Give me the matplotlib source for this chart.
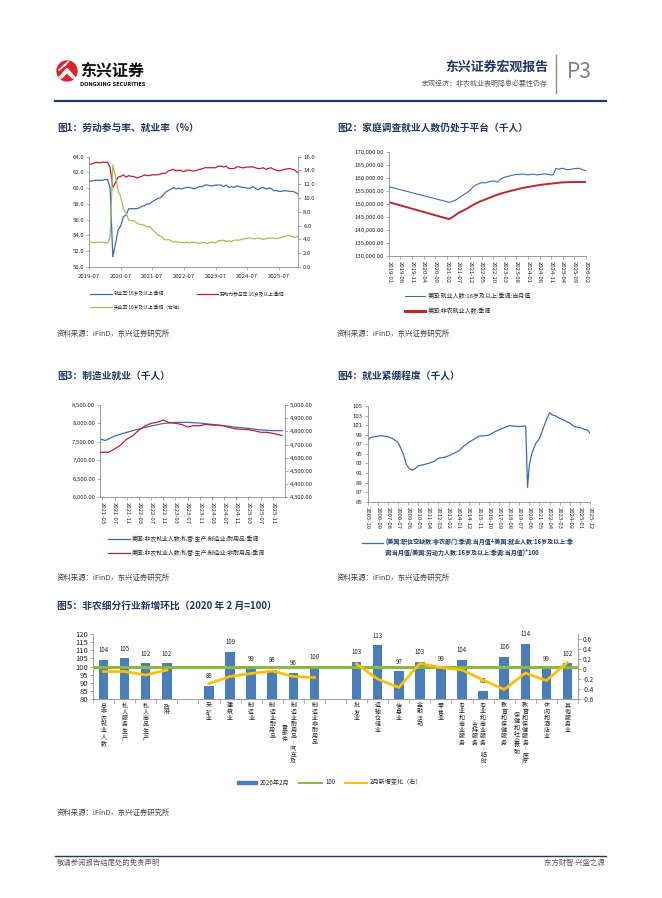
import matplotlib
matplotlib.use('Agg')
import matplotlib.pyplot as plt
from matplotlib.patches import Circle, Polygon, Rectangle
import pandas as pd
import numpy as np

plt.rcParams['font.family'] = ['Noto Sans CJK SC', 'DejaVu Sans']
plt.rcParams['axes.unicode_minus'] = False

# ---------------- data ----------------
# 图1 labour market rates, monthly 2019-07 .. 2026-02 (2025-10 not published)
rate_dates = [d for d in pd.date_range('2019-07-01', '2026-02-01', freq='MS')
              if d != pd.Timestamp('2025-10-01')]
emp_rate = [60.9, 60.9, 61.0, 61.0, 61.0, 61.0,
            61.1, 61.1, 60.0, 51.3, 52.9, 54.7, 55.2, 56.4, 56.6, 57.4, 57.4, 57.4,
            57.4, 57.5, 57.7, 57.8, 58.0, 58.0, 58.3, 58.5, 58.7, 58.8, 59.1, 59.5,
            59.7, 59.9, 60.1, 59.9, 60.0, 59.9, 60.0, 60.1, 60.1, 60.0, 59.9, 60.1,
            60.2, 60.2, 60.4, 60.4, 60.3, 60.3, 60.4, 60.4, 60.4, 60.2, 60.4, 60.1,
            60.2, 60.1, 60.3, 60.2, 60.1, 60.1, 60.0, 60.0, 60.2, 60.0, 59.8, 60.0,
            60.1, 59.9, 60.0, 60.0, 59.7, 59.7, 59.6, 59.6, 59.7, 59.6, 59.6,
            59.5, 59.3]
lfpr = [63.0, 63.1, 63.2, 63.3, 63.2, 63.3,
        63.3, 63.3, 62.6, 60.1, 60.7, 61.4, 61.5, 61.7, 61.4, 61.6, 61.5, 61.5,
        61.3, 61.4, 61.5, 61.7, 61.6, 61.6, 61.7, 61.7, 61.7, 61.8, 61.9, 61.9,
        62.2, 62.3, 62.4, 62.2, 62.3, 62.2, 62.1, 62.3, 62.3, 62.2, 62.2, 62.3,
        62.4, 62.5, 62.6, 62.6, 62.6, 62.6, 62.6, 62.8, 62.8, 62.7, 62.8, 62.5,
        62.5, 62.5, 62.7, 62.7, 62.6, 62.6, 62.7, 62.7, 62.7, 62.6, 62.5, 62.5,
        62.6, 62.4, 62.5, 62.6, 62.4, 62.3, 62.2, 62.3, 62.4, 62.5, 62.4,
        62.3, 62.0]
unemp = [3.7, 3.6, 3.5, 3.6, 3.6, 3.6,
         3.5, 3.5, 4.4, 14.8, 13.2, 11.0, 10.2, 8.4, 7.8, 6.8, 6.7, 6.7,
         6.4, 6.2, 6.1, 6.1, 5.8, 5.9, 5.4, 5.1, 4.7, 4.5, 4.2, 3.9,
         4.0, 3.8, 3.6, 3.7, 3.6, 3.6, 3.5, 3.6, 3.5, 3.6, 3.6, 3.5,
         3.4, 3.6, 3.5, 3.4, 3.6, 3.6, 3.5, 3.8, 3.8, 3.9, 3.7, 3.8,
         3.7, 3.9, 3.9, 3.9, 4.0, 4.1, 4.2, 4.2, 4.1, 4.1, 4.2, 4.1,
         4.0, 4.1, 4.2, 4.2, 4.2, 4.1, 4.2, 4.3, 4.4, 4.6, 4.4,
         4.3, 4.4]

# 图2 household survey vs payrolls (thousands)
hh_dates = ['2019-01', '2021-03', '2021-04', '2021-06', '2021-08', '2021-09', '2021-10',
            '2021-12', '2022-01', '2022-02', '2022-03', '2022-05', '2022-07', '2022-08',
            '2022-10', '2022-11', '2022-12', '2023-01', '2023-03', '2023-05', '2023-06',
            '2023-08', '2023-09', '2023-11', '2023-12', '2024-02', '2024-03', '2024-05',
            '2024-07', '2024-08', '2024-10', '2024-11', '2024-12', '2025-01', '2025-02',
            '2025-03', '2025-04', '2025-05', '2025-06', '2025-07', '2025-08', '2025-09',
            '2025-11', '2025-12', '2026-01', '2026-02']
hh_emp = [156600, 150650, 150900, 151600, 152800, 153400, 153900,
          155200, 156300, 157000, 157500, 158150, 158100, 158500,
          158800, 158700, 158300, 159400, 160300, 160700, 160950,
          161300, 161300, 161500, 161200, 161200, 161500, 161100,
          161400, 161500, 161300, 161100, 161300, 163600, 163300,
          163500, 163700, 163300, 163100, 163200, 163300, 163500,
          163700, 163300, 163000, 162700]
nfp_dates = ['2019-01', '2021-03', '2021-05', '2021-07', '2021-09', '2021-11', '2022-01',
             '2022-03', '2022-05', '2022-07', '2022-09', '2022-11', '2023-01', '2023-03',
             '2023-05', '2023-07', '2023-09', '2023-11', '2024-01', '2024-03', '2024-05',
             '2024-07', '2024-09', '2024-11', '2025-01', '2025-03', '2025-05', '2025-07',
             '2025-09', '2025-11', '2026-02']
nfp = [150700, 144200, 145300, 146600, 147500, 148400, 149500,
       150400, 151200, 151900, 152600, 153300, 153900, 154400,
       154900, 155300, 155800, 156200, 156500, 156800, 157100,
       157400, 157600, 157800, 158000, 158200, 158300, 158350,
       158400, 158400, 158400]

# 图3 manufacturing employment (thousands)
dur_dates = ['2021-02', '2021-04', '2021-07', '2021-11', '2022-03', '2022-07', '2022-11',
             '2023-03', '2023-07', '2023-11', '2024-03', '2024-07', '2024-11', '2025-03',
             '2025-07', '2025-11', '2026-02']
durable = [7580, 7540, 7660, 7760, 7850, 7930, 8000,
           8030, 8030, 8010, 7975, 7940, 7895, 7868,
           7825, 7805, 7805]
nondur_dates = ['2021-02', '2021-05', '2021-07', '2021-09', '2021-11', '2022-01', '2022-03',
                '2022-05', '2022-07', '2022-09', '2022-11', '2023-01', '2023-03', '2023-05',
                '2023-07', '2023-09', '2023-11', '2024-01', '2024-03', '2024-05', '2024-07',
                '2024-09', '2024-11', '2025-01', '2025-03', '2025-05', '2025-07', '2025-09',
                '2025-11', '2026-02']
nondurable = [4641, 4642, 4666, 4697, 4742, 4768, 4810,
              4841, 4861, 4869, 4886, 4866, 4861, 4853,
              4833, 4843, 4843, 4853, 4848, 4846, 4841,
              4828, 4818, 4816, 4813, 4805, 4793, 4793,
              4785, 4768]

# 图4 tightness: (openings + employment) / labour force * 100
tight_dates = ['2005-10', '2006-01', '2006-06', '2007-01', '2007-08', '2008-01', '2008-07',
               '2008-10', '2009-01', '2009-04', '2009-07', '2009-10', '2010-01', '2010-05',
               '2010-10', '2011-04', '2011-10', '2012-03', '2012-10', '2013-02', '2013-10',
               '2014-01', '2014-06', '2014-12', '2015-06', '2015-11', '2016-06', '2016-10',
               '2017-04', '2017-09', '2018-03', '2018-08', '2019-01', '2019-07', '2020-01',
               '2020-02', '2020-04', '2020-06', '2020-09', '2021-01', '2021-05', '2021-09',
               '2022-01', '2022-04', '2022-07', '2022-10', '2023-03', '2023-07', '2023-12',
               '2024-02', '2024-07', '2024-12', '2025-01', '2025-06', '2025-09', '2025-12']
tightness = [97.9, 98.4, 98.6, 98.8, 98.6, 98.2, 97.4,
             96.2, 94.8, 92.8, 92.0, 91.6, 91.8, 92.5,
             92.7, 93.0, 93.4, 94.1, 94.3, 94.6, 95.3,
             95.6, 96.5, 97.4, 98.1, 98.7, 98.8, 98.9,
             99.6, 100.0, 100.5, 100.9, 100.8, 100.7, 100.8,
             100.7, 88.0, 92.7, 95.3, 97.2, 98.2, 100.3,
             102.4, 103.6, 103.1, 103.0, 102.4, 102.1, 101.6,
             101.4, 100.7, 100.5, 100.5, 100.1, 100.0, 99.3]

# 图5 sector index (2020-02 = 100) and Feb change (right axis); '' = gap slot
sectors = ['总非农就业人数', '私人服务生产', '私人商品生产', '政府', '',
           '采矿业', '建筑业', '制造业', '制造业耐用品', '制造业耐用品:汽车及零部件', '制造业非耐用品', '',
           '批发业', '运输仓储业', '信息业', '金融活动', '零售业', '专业和商业服务',
           '专业和商业服务:临时支持服务', '教育和保健服务', '教育和保健服务:医疗保健和社会救助',
           '休闲和酒店业', '其他服务业']
index_feb26 = [104, 105, 102, 102, None, 88, 109, 99, 98, 96, 100, None,
               103, 113, 97, 103, 99, 104, 85, 106, 114, 99, 102]
feb_change = [-0.05, -0.05, -0.12, -0.02, None, -0.29, -0.15, -0.09, -0.04, -0.15, -0.17, None,
              0.10, -0.20, -0.37, 0.11, 0.03, -0.02, -0.22, -0.41, -0.08, -0.23, 0.13]
ref_level = 100

# ---------------- page ----------------
W, H = 662, 898
fig = plt.figure(figsize=(W / 100, H / 100), dpi=100)
fig.patch.set_facecolor('white')
bg = fig.add_axes([0, 0, 1, 1])
bg.set_xlim(0, W)
bg.set_ylim(H, 0)
bg.axis('off')

NAVY = '#1F3864'
BLUE = '#3B6DB3'
RED = '#C0202E'
GREEN = '#A2BF52'
AXC = '#8C8C8C'
TXT = '#262626'


def rect(x0, y0, x1, y1):
    return [x0 / W, 1 - y1 / H, (x1 - x0) / W, (y1 - y0) / H]


def style(ax, size=4.3):
    ax.spines['top'].set_visible(False)
    ax.spines['right'].set_visible(False)
    for s in ax.spines.values():
        s.set_color(AXC)
        s.set_linewidth(0.6)
    ax.tick_params(labelsize=size, length=2, width=0.5, color=AXC, pad=1.5, labelcolor=TXT)


def twin_style(ax2, size=4.3):
    for k, s in ax2.spines.items():
        s.set_visible(k == 'right')
        s.set_color(AXC)
        s.set_linewidth(0.6)
    ax2.tick_params(labelsize=size, length=2, width=0.5, color=AXC, pad=1.5, labelcolor=TXT)


def source(x, y):
    bg.text(x, y, '资料来源：iFinD，东兴证券研究所', fontsize=5.3, style='italic',
            color='#404040', va='center')


def title(x, y, s):
    bg.text(x, y, s, fontsize=7, fontweight='bold', color=NAVY, va='center')


# header
bg.add_patch(Circle((67, 71), 10, color='#D9262C'))
bg.add_patch(Polygon([(58.5, 78), (67, 68.5), (75.5, 78), (72.5, 78), (67, 72.5), (61.5, 78)],
                     closed=True, color='white'))
for k in range(3):
    bg.plot([59 + k * 2.2, 66 + k * 1.2], [70 - k * 2.2, 64.5 - k * 1.5], color='white', lw=0.9)
bg.text(80, 70, '东兴证券', fontsize=11.5, fontweight='bold', color='#111111', va='center')
bg.text(80, 84, 'DONGXING SECURITIES', fontsize=3.6, fontweight='bold', color='#111111',
        va='center', family='DejaVu Sans')
bg.text(548, 67, '东兴证券宏观报告', fontsize=9.3, fontweight='bold', color=NAVY,
        ha='right', va='center')
bg.text(548, 84, '宏观经济：非农就业表明降息必要性仍存', fontsize=5, color='#595959',
        ha='right', va='center')
bg.plot([556, 556], [55, 93], color='#8C8C8C', lw=1)
bg.text(567, 72, 'P3', fontsize=15, color='#808080', va='center')
bg.plot([55, 606], [101, 101], color=NAVY, lw=1.6)

# footer
bg.plot([55, 606], [856, 856], color=NAVY, lw=1.0)
bg.text(57, 863, '敬请参阅报告结尾处的免责声明', fontsize=5.3, color='#595959', va='center')
bg.text(605, 863, '东方财智 兴盛之源', fontsize=5.3, color='#595959', va='center', ha='right')

# ---------------- 图1 ----------------
title(57, 128, '图1：劳动参与率、就业率（%）')
ax1 = fig.add_axes(rect(89, 156.7, 298.3, 267))
style(ax1)
d1 = np.array(rate_dates, dtype='datetime64[ns]')
ax1.plot(d1, emp_rate, color=BLUE, lw=0.9)
ax1.plot(d1, lfpr, color=RED, lw=0.9)
ax1.set_ylim(50, 64)
ax1.set_yticks(np.arange(50, 64.1, 2))
ax1.set_yticklabels([f'{v:.1f}' for v in np.arange(50, 64.1, 2)])
t1 = pd.date_range('2019-07-01', '2025-07-01', freq='12MS')
ax1.set_xticks(t1)
ax1.set_xticklabels([t.strftime('%Y-%m') for t in t1])
ax1.set_xlim(pd.Timestamp('2019-07-01'), pd.Timestamp('2026-02-10'))
ax1.tick_params(axis='x', pad=3)
ax1b = ax1.twinx()
twin_style(ax1b)
ax1b.plot(d1, unemp, color=GREEN, lw=0.9)
ax1b.set_ylim(0, 16)
ax1b.set_yticks(np.arange(0, 16.1, 2))
ax1b.set_yticklabels([f'{v:.1f}' for v in np.arange(0, 16.1, 2)])

bg.plot([90, 112], [294, 294], color=BLUE, lw=0.9)
bg.text(114, 294, '就业率:16岁及以上:季调', fontsize=3.4, va='center', color=TXT)
bg.plot([197, 218], [294, 294], color=RED, lw=0.9)
bg.text(220, 294, '劳动力参与率:16岁及以上:季调', fontsize=3.4, va='center', color=TXT)
bg.plot([90, 112], [307, 307], color=GREEN, lw=0.9)
bg.text(114, 307, '失业率:16岁及以上:季调（右轴）', fontsize=3.4, va='center', color=TXT)
source(57, 334)

# ---------------- 图2 ----------------
title(337, 128, '图2：家庭调查就业人数仍处于平台（千人）')
ax2 = fig.add_axes(rect(389, 151.7, 586, 256.3))
style(ax2)
ax2.plot(pd.to_datetime(hh_dates), hh_emp, color=BLUE, lw=0.8)
ax2.plot(pd.to_datetime(nfp_dates), nfp, color='#B8282E', lw=1.4)
ax2.set_ylim(130000, 170000)
yt2 = np.arange(130000, 170001, 5000)
ax2.set_yticks(yt2)
ax2.set_yticklabels([f'{v:,.2f}' for v in yt2])
t2 = pd.date_range('2019-01-01', '2026-02-01', freq='5MS')
ax2.set_xticks(t2)
ax2.set_xticklabels([t.strftime('%Y-%m') for t in t2], rotation=270)
ax2.set_xlim(pd.Timestamp('2019-01-01'), pd.Timestamp('2026-02-01'))

bg.plot([405, 425], [296, 296], color=BLUE, lw=0.8)
bg.text(428, 296, '美国:就业人数:16岁及以上:季调:当月值', fontsize=4.3, va='center', color=TXT)
bg.plot([405, 425], [311, 311], color='#B8282E', lw=2.2)
bg.text(428, 311, '美国:非农就业人数:季调', fontsize=4.3, va='center', color=TXT)
source(337, 334)

# ---------------- 图3 ----------------
title(57, 376, '图3：制造业就业（千人）')
ax3 = fig.add_axes(rect(100, 405, 285.3, 497.3))
style(ax3)
ax3.plot(pd.to_datetime(dur_dates), durable, color=BLUE, lw=0.9)
ax3.set_ylim(6000, 8500)
yt3 = np.arange(6000, 8501, 500)
ax3.set_yticks(yt3)
ax3.set_yticklabels([f'{v:,.2f}' for v in yt3])
t3 = pd.date_range('2021-03-01', '2025-11-01', freq='4MS')
ax3.set_xticks(t3)
ax3.set_xticklabels([t.strftime('%Y-%m') for t in t3], rotation=270)
ax3.set_xlim(pd.Timestamp('2021-02-05'), pd.Timestamp('2026-03-05'))
ax3b = ax3.twinx()
twin_style(ax3b)
ax3b.plot(pd.to_datetime(nondur_dates), nondurable, color=RED, lw=0.9)
ax3b.set_ylim(4300, 5000)
yt3b = np.arange(4300, 5001, 100)
ax3b.set_yticks(yt3b)
ax3b.set_yticklabels([f'{v:,.2f}' for v in yt3b])

bg.plot([108, 130], [539, 539], color=BLUE, lw=0.9)
bg.text(132, 539, '美国:非农就业人数:私营:生产:制造业:耐用品:季调', fontsize=4.2,
        va='center', color=TXT)
bg.plot([108, 130], [553, 553], color=RED, lw=0.9)
bg.text(132, 553, '美国:非农就业人数:私营:生产:制造业:非耐用品:季调', fontsize=4.2,
        va='center', color=TXT)
source(57, 578)

# ---------------- 图4 ----------------
title(337, 376, '图4：就业紧绷程度（千人）')
ax4 = fig.add_axes(rect(367.7, 406, 590, 501.7))
style(ax4)
ax4.plot(pd.to_datetime(tight_dates), tightness, color=BLUE, lw=0.9)
ax4.set_ylim(85, 105)
ax4.set_yticks(np.arange(85, 105.1, 2))
t4 = pd.date_range('2005-10-01', '2025-12-01', freq='11MS')
ax4.set_xticks(t4)
ax4.set_xticklabels([t.strftime('%Y-%m') for t in t4], rotation=270)
ax4.set_xlim(pd.Timestamp('2005-10-01'), pd.Timestamp('2025-12-01'))

bg.plot([362, 383], [543, 543], color=BLUE, lw=0.9)
bg.text(385, 547.5, '(美国:职位空缺数:非农部门:季调:当月值+美国:就业人数:16岁及以上:季\n'
        '调:当月值/美国:劳动力人数:16岁及以上:季调:当月值)*100',
        fontsize=4.3, fontweight='bold', color=NAVY, va='center', linespacing=1.35)
source(337, 578)

# ---------------- 图5 ----------------
title(57, 606, '图5：非农细分行业新增环比（2020 年 2 月=100）')
ax5 = fig.add_axes(rect(93, 634, 578, 699))
style(ax5, size=5.5)
xs = np.arange(len(sectors))
bar_x = [i for i, v in zip(xs, index_feb26) if v is not None]
bar_v = [v for v in index_feb26 if v is not None]
ax5.bar(bar_x, bar_v, width=0.45, color='#4A7EBB', zorder=2)
for x, v in zip(bar_x, bar_v):
    ax5.annotate(str(v), (x, v), xytext=(0, 4), textcoords='offset points', ha='center',
                 va='bottom', fontsize=4.4, color=TXT)
ax5.axhline(ref_level, color='#8DB83E', lw=2.2, zorder=3)
ax5.set_ylim(80, 120)
ax5.set_yticks(np.arange(80, 121, 5))
ax5.set_xlim(-0.5, len(sectors) - 0.5)
ax5.set_xticks([])
ax5.set_xticks(np.arange(-0.5, len(sectors)), minor=True)
ax5.tick_params(axis='x', which='minor', length=3, width=0.5, color=AXC)
ax5b = ax5.twinx()
twin_style(ax5b, size=4.6)
chg = [np.nan if v is None else v for v in feb_change]
ax5b.plot(xs, chg, color='#FFC000', lw=2.0, zorder=4)
ax5b.set_ylim(-0.6, 0.7)
yt5 = np.arange(-0.6, 0.61, 0.2)
ax5b.set_yticks(yt5)
ax5b.set_yticklabels([f'{v:.1f}' if abs(v) > 1e-9 else '0' for v in yt5])

pitch = 4.45
for i, lab in enumerate(sectors):
    if not lab:
        continue
    col1, col2 = lab[:10], lab[10:]
    for r, ch in enumerate(col1):
        ax5.annotate(ch, (i, 0), xycoords=('data', 'axes fraction'),
                     xytext=(0, -3 - r * pitch), textcoords='offset points',
                     ha='center', va='top', fontsize=4.3, color=TXT, annotation_clip=False)
    shift = (len(col1) - len(col2)) / 2 * pitch
    for r, ch in enumerate(col2):
        ax5.annotate(ch, (i, 0), xycoords=('data', 'axes fraction'),
                     xytext=(-6, -3 - shift - r * pitch), textcoords='offset points',
                     ha='center', va='top', fontsize=4.3, color=TXT, annotation_clip=False)

bg.add_patch(Rectangle((237, 780.5), 20, 3.5, color='#4A7EBB'))
bg.text(260, 782.5, '2026年2月', fontsize=4.4, va='center', color=TXT)
bg.plot([299, 322], [782.5, 782.5], color='#8DB83E', lw=1.4)
bg.text(325, 782.5, '100', fontsize=4.4, va='center', color=TXT)
bg.plot([345, 367], [782.5, 782.5], color='#FFC000', lw=1.4)
bg.text(370, 782.5, '2月新增变化（右）', fontsize=4.4, va='center', color=TXT)
source(57, 813)

fig.savefig('out.png', dpi=100, facecolor='white')
